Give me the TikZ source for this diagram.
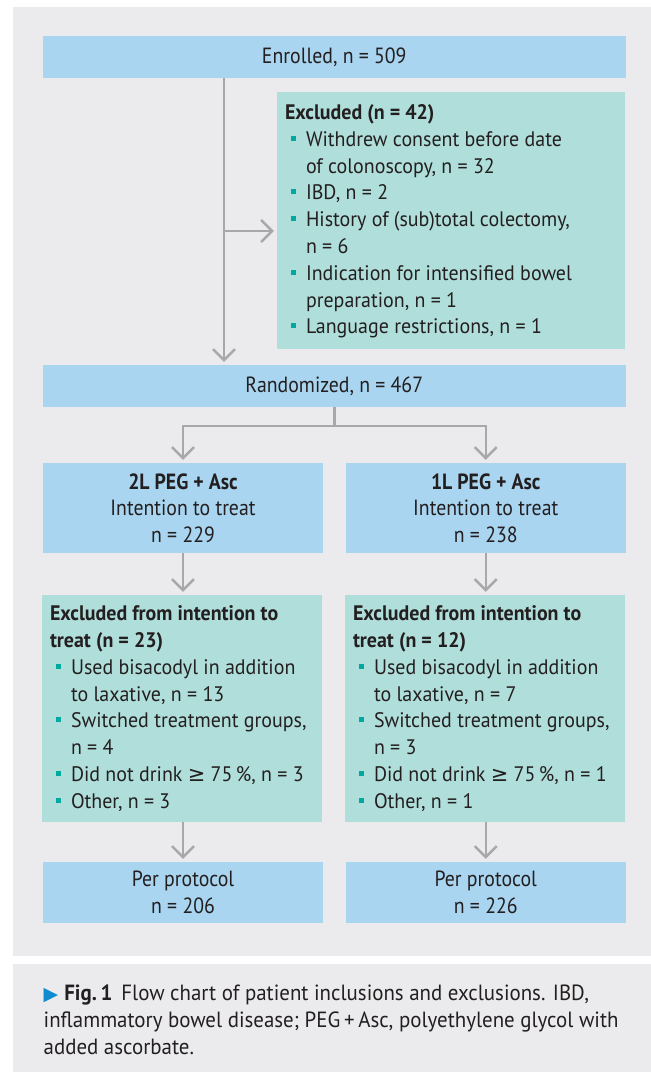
\documentclass[tikz,border=0pt]{standalone}
\usepackage{fontspec}
\setmainfont{PT Sans}[FakeStretch=0.95]
\newfontfamily\condfont{PT Sans}[FakeStretch=0.9]
\newfontfamily\symfont{DejaVu Sans}
\usetikzlibrary{arrows.meta}
\definecolor{panelgray}{HTML}{EBEBED}
\definecolor{boxblue}{HTML}{A9D5F0}
\definecolor{boxgreen}{HTML}{B0DEDA}
\definecolor{linegray}{HTML}{A8A8AA}
\definecolor{bulletc}{HTML}{00A99D}
\definecolor{textdark}{HTML}{231F20}
\definecolor{capblue}{HTML}{0F8BD0}
\newcommand\gfont{\fontsize{21}{26.8}\selectfont}
\newcommand\cfont{\fontsize{22}{26.8}\selectfont}
\newcommand\bfontx{\condfont\fontsize{22}{26.4}\selectfont}
\newcommand\bul{\hspace*{5.7pt}\textcolor{bulletc}{\rule[5.5pt]{5pt}{5pt}}\hspace*{10.3pt}}
\newcommand\ind{\hspace*{21pt}}
\tikzset{
  bluebox/.style={fill=boxblue, draw=none, inner sep=0pt, font=\bfontx, text=textdark, align=center},
  greenbox/.style={fill=boxgreen, draw=none, inner sep=0pt},
  gtext/.style={anchor=west, inner sep=0pt, align=left, font=\gfont, text=textdark},
  conn/.style={draw=linegray, line width=2.5pt},
  arr/.style={conn, -{Straight Barb[length=11pt,width=22pt]}, shorten >=3pt},
}
\begin{document}
\begin{tikzpicture}[x=1pt,y=-1pt]
\useasboundingbox (0,0) rectangle (651,1072);
\fill[panelgray] (13,7) rectangle (651,955.7);
\fill[panelgray] (13,964) rectangle (651,1072);

\node[bluebox, minimum width=582.5pt, minimum height=42pt] (enr) at (334.25,57) {Enrolled, n = 509};
\node[greenbox, minimum width=348pt, minimum height=257pt] (excl) at (451,220.5) {};
\node[gtext] (excltxt) at ([xshift=8pt,yshift=-1pt]excl.west) {%
\textbf{Excluded (n = 42)}\\
\bul Withdrew consent before date\\
\ind of colonoscopy, n = 32\\
\bul IBD, n = 2\\
\bul History of (sub)total colectomy,\\
\ind n = 6\\
\bul Indication for intensified bowel\\
\ind preparation, n = 1\\
\bul Language restrictions, n = 1};
\node[bluebox, minimum width=582.5pt, minimum height=42pt] (rand) at (334.25,386) {Randomized, n = 467};

\node[bluebox, minimum width=280pt, minimum height=90pt] (arm1) at (183,508) {\textbf{2L PEG + Asc}\\Intention to treat\\n = 229};
\node[bluebox, minimum width=279.5pt, minimum height=90pt] (arm2) at (485.75,508) {\textbf{1L PEG + Asc}\\Intention to treat\\n = 238};

\node[greenbox, minimum width=280pt, minimum height=227pt] (ex1) at (182,708.5) {};
\node[gtext] (ex1txt) at ([xshift=8pt]ex1.west) {%
\textbf{Excluded from intention to}\\
\textbf{treat (n = 23)}\\
\bul Used bisacodyl in addition\\
\ind to laxative, n = 13\\
\bul Switched treatment groups,\\
\ind n = 4\\
\bul Did not drink {\symfont ≥} 75\,\%, n = 3\\
\bul Other, n = 3};
\node[greenbox, minimum width=280pt, minimum height=227pt] (ex2) at (485,708.5) {};
\node[gtext] (ex2txt) at ([xshift=8pt]ex2.west) {%
\textbf{Excluded from intention to}\\
\textbf{treat (n = 12)}\\
\bul Used bisacodyl in addition\\
\ind to laxative, n = 7\\
\bul Switched treatment groups,\\
\ind n = 3\\
\bul Did not drink {\symfont ≥} 75\,\%, n = 1\\
\bul Other, n = 1};

\node[bluebox, minimum width=280pt, minimum height=61pt] (pp1) at (183,892.5) {Per protocol\\n = 206};
\node[bluebox, minimum width=279.5pt, minimum height=61pt] (pp2) at (485.75,892.5) {Per protocol\\n = 226};

\coordinate (vx) at (224,0);
\coordinate (sj) at (224,231);
\coordinate (bj) at (334.25,426);
\draw[arr] (enr.south -| vx) -- (rand.north -| vx);
\draw[arr] (sj) -- (excl.west |- sj);
\draw[conn] (rand.south) -- (bj);
\draw[arr] (bj) -| (arm1.north);
\draw[arr] (bj) -| (arm2.north);
\draw[arr] (arm1.south) -- (arm1.south |- ex1.north);
\draw[arr] (arm2.south) -- (arm2.south |- ex2.north);
\draw[arr] (arm1.south |- ex1.south) -- (pp1.north);
\draw[arr] (arm2.south |- ex2.south) -- (pp2.north);

\node[gtext, font=\cfont] (cap) at (43.5,1020) {{\color{capblue}\symfont\fontsize{19}{26.8}\selectfont ▶}\hspace{6pt}\textbf{Fig.\,1}\hspace{9pt}Flow chart of patient inclusions and exclusions. IBD,\\
inflammatory bowel disease; PEG\,+\,Asc, polyethylene glycol with\\
added ascorbate.};
\end{tikzpicture}
\end{document}
